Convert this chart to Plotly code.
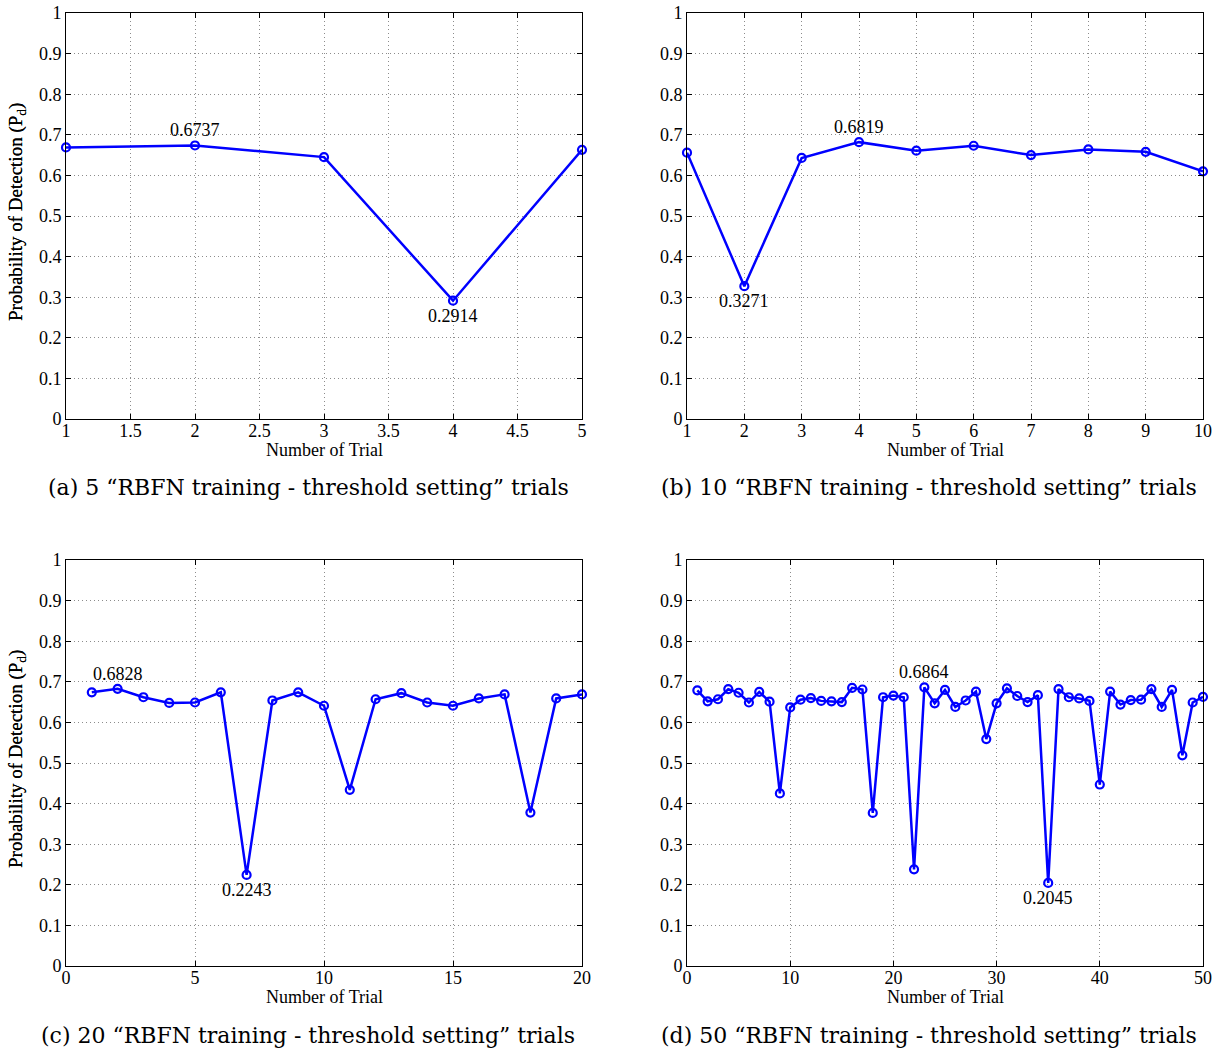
import plotly.graph_objects as go

# Probability of detection per trial, for four experiment sizes
trials_5 = [1, 2, 3, 4, 5]
pd_5 = [0.669, 0.6737, 0.645, 0.2914, 0.663]

trials_10 = list(range(1, 11))
pd_10 = [0.656, 0.3271, 0.643, 0.6819, 0.661, 0.673, 0.650, 0.664, 0.658, 0.610]

trials_20 = list(range(1, 21))
pd_20 = [0.674, 0.6828, 0.662, 0.648, 0.649, 0.674, 0.2243, 0.654, 0.674, 0.641,
         0.434, 0.657, 0.672, 0.649, 0.641, 0.659, 0.669, 0.378, 0.659, 0.669]

trials_50 = list(range(1, 51))
pd_50 = [0.679, 0.652, 0.657, 0.682, 0.673, 0.649, 0.675, 0.651, 0.425, 0.637,
         0.656, 0.660, 0.653, 0.652, 0.650, 0.685, 0.681, 0.377, 0.662, 0.666,
         0.662, 0.238, 0.6864, 0.647, 0.680, 0.638, 0.654, 0.676, 0.559, 0.647,
         0.684, 0.665, 0.650, 0.667, 0.2045, 0.682, 0.662, 0.659, 0.653, 0.447,
         0.676, 0.644, 0.655, 0.656, 0.682, 0.638, 0.680, 0.519, 0.649, 0.663]

# Highlighted values: (trial, value, position)
marks_5 = [(2, 0.6737, "above"), (4, 0.2914, "below")]
marks_10 = [(2, 0.3271, "below"), (4, 0.6819, "above")]
marks_20 = [(2, 0.6828, "above"), (7, 0.2243, "below")]
marks_50 = [(23, 0.6864, "above"), (35, 0.2045, "below")]

xticks_5 = [1, 1.5, 2, 2.5, 3, 3.5, 4, 4.5, 5]
xticks_10 = list(range(1, 11))
xticks_20 = [0, 5, 10, 15, 20]
xticks_50 = [0, 10, 20, 30, 40, 50]
yticks = [0, 0.1, 0.2, 0.3, 0.4, 0.5, 0.6, 0.7, 0.8, 0.9, 1]
ytick_text = ["0", "0.1", "0.2", "0.3", "0.4", "0.5", "0.6", "0.7", "0.8", "0.9", "1"]

captions = [
    "(a) 5 \u201cRBFN training - threshold setting\u201d trials",
    "(b) 10 \u201cRBFN training - threshold setting\u201d trials",
    "(c) 20 \u201cRBFN training - threshold setting\u201d trials",
    "(d) 50 \u201cRBFN training - threshold setting\u201d trials",
]

W, H = 1225, 1052
FONT = "Liberation Serif"
CAP_FONT = "DejaVu Serif"
BLUE = "rgb(0,0,255)"

# pixel boxes of each plot area: (left, right, top, bottom)
boxes = [(66, 582, 13, 419), (687, 1203, 13, 419),
         (66, 582, 560, 966), (687, 1203, 560, 966)]
xranges = [(1, 5), (1, 10), (0, 20), (0, 50)]
panels = [
    (trials_5, pd_5, marks_5, xticks_5),
    (trials_10, pd_10, marks_10, xticks_10),
    (trials_20, pd_20, marks_20, xticks_20),
    (trials_50, pd_50, marks_50, xticks_50),
]

fig = go.Figure()
annotations = []


def paper_note(x_px, y_px, text, size, family=FONT, angle=0):
    return dict(x=x_px / W, y=1 - y_px / H, xref="paper", yref="paper",
                xanchor="center", yanchor="middle", text=text, showarrow=False,
                textangle=angle, font=dict(family=family, size=size, color="black"))


for i, ((xs, ys, marks, xt), (l, r, t, b), xr) in enumerate(zip(panels, boxes, xranges)):
    n = "" if i == 0 else str(i + 1)
    xa, ya = "x" + n, "y" + n
    fig.add_trace(go.Scatter(
        x=xs, y=ys, xaxis=xa, yaxis=ya, mode="lines+markers",
        line=dict(color=BLUE, width=2.5),
        marker=dict(symbol="circle-open", size=8, color=BLUE, line=dict(width=2.2, color=BLUE)),
        showlegend=False, cliponaxis=False,
    ))
    axis_common = dict(
        automargin=False,
        showline=True, mirror="ticks", linecolor="black", linewidth=1,
        ticks="inside", ticklen=5, tickcolor="black", tickwidth=1,
        showgrid=True, gridcolor="#8c8c8c", griddash="1px,3px", gridwidth=1,
        zeroline=False, tickfont=dict(family=FONT, size=18, color="black"),
    )
    fig.update_layout(**{
        "xaxis" + n: dict(
            domain=[l / W, r / W], range=list(xr), anchor=ya, ticklabelstandoff=-5,
            tickvals=xt, ticktext=[("%g" % v) for v in xt], **axis_common),
        "yaxis" + n: dict(
            domain=[1 - b / H, 1 - t / H], range=[0, 1], anchor=xa,
            tickvals=yticks, ticktext=ytick_text, **axis_common),
    })
    for (tx, val, pos) in marks:
        annotations.append(dict(
            x=tx, y=val, xref=xa, yref=ya, text="%.4f" % val, showarrow=False,
            xanchor="center", yanchor="middle",
            yshift=15 if pos == "above" else -15,
            font=dict(family=FONT, size=18, color="black")))
    # axis titles and panel caption
    annotations.append(paper_note((l + r) / 2, b + 31, "Number of Trial", 18))
    annotations.append(paper_note(17, (t + b) / 2 - 4,
                                  "Probability of Detection (P<sub>d</sub>)", 19, angle=-90))
    annotations.append(paper_note((l + r) / 2 - 16, b + 69, captions[i], 22, family=CAP_FONT))

fig.update_layout(
    width=W, height=H, margin=dict(l=0, r=0, t=0, b=0, autoexpand=False),
    paper_bgcolor="white", plot_bgcolor="white",
    annotations=annotations,
)

fig.write_html("out.html")
